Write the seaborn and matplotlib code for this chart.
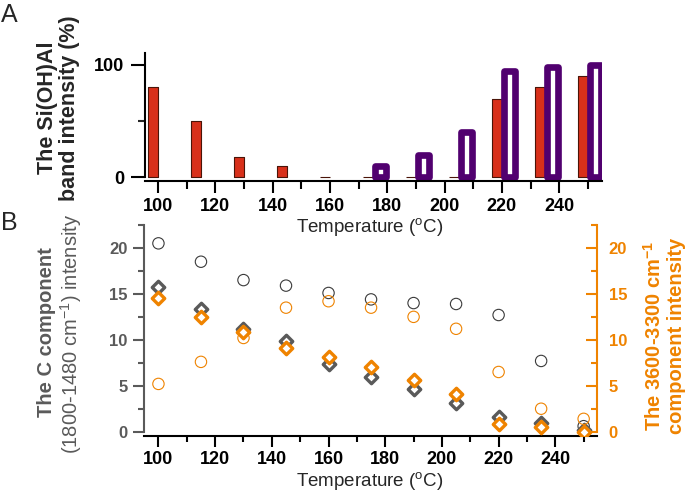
import numpy as np
import matplotlib
matplotlib.use("Agg")
import matplotlib.pyplot as plt
from matplotlib.ticker import MultipleLocator
import seaborn as sns

# data
temps = [100, 115, 130, 145, 160, 175, 190, 205, 220, 235, 250]

# panel A: Si(OH)Al band intensity (%)
band_red = [80, 50, 18, 10, 0, 0, 0, 0, 70, 80, 90]
band_purple = [np.nan, np.nan, np.nan, np.nan, np.nan, 10, 20, 40, 95, 98, 100]

# panel B: component intensities
c_circle = [20.5, 18.5, 16.5, 15.9, 15.1, 14.4, 14.0, 13.9, 12.7, 7.7, 0.6]
c_diamond = [15.8, 13.4, 11.2, 9.9, 7.4, 6.0, 4.6, 3.1, 1.6, 0.9, 0.2]
oh_circle = [5.2, 7.6, 10.2, 13.5, 14.2, 13.5, 12.5, 11.2, 6.5, 2.5, 1.4]
oh_diamond = [14.5, 12.5, 10.9, 9.1, 8.1, 7.0, 5.6, 4.1, 0.8, 0.5, 0.0]

RED = "#D8301A"
PURPLE = "#51006F"
ORANGE = "#EF8300"
GRAY = "#5A5A5A"
DARK = "#3A3A3A"

sns.set_theme(style="ticks")
plt.rcParams["font.family"] = ["Liberation Sans", "DejaVu Sans"]
plt.rcParams["mathtext.fontset"] = "custom"
plt.rcParams["mathtext.rm"] = "Liberation Sans"
plt.rcParams["mathtext.it"] = "Liberation Sans:italic"
plt.rcParams["mathtext.bf"] = "Liberation Sans:bold"

fig = plt.figure(figsize=(6.85, 4.91), dpi=100)
axA = fig.add_axes([0.2117, 0.6314, 0.6671, 0.2607])
axB = fig.add_axes([0.2102, 0.1120, 0.6613, 0.4298])

t = np.array(temps, dtype=float)

# ---- panel A ----
sns.barplot(x=t - 1.7, y=band_red, native_scale=True, width=3.6 / 15, orient="x",
            color=RED, edgecolor="#4a1408", linewidth=0.8, errorbar=None,
            saturation=1, ax=axA)
sns.barplot(x=t + 2.6, y=band_purple, native_scale=True, width=3.7 / 15, orient="x",
            color="white", edgecolor=PURPLE, linewidth=4.8, errorbar=None,
            saturation=1, ax=axA)
for p in axA.patches:
    p.set_joinstyle("round")

axA.set_xlim(95.5, 254.9)
axA.set_ylim(-3.3, 110.7)
axA.xaxis.set_major_locator(MultipleLocator(20))
axA.xaxis.set_minor_locator(MultipleLocator(10))
axA.set_yticks([0, 100])
axA.set_yticks([50], minor=True)
axA.set_xlabel("")
axA.set_ylabel("")
for s in ["top", "right"]:
    axA.spines[s].set_visible(False)
axA.spines["left"].set_bounds(0, 110.7)
for s in ["left", "bottom"]:
    axA.spines[s].set_linewidth(1.5)
    axA.spines[s].set_color("black")
axA.tick_params(axis="y", which="major", length=10, width=1.5, pad=5, labelsize=13, colors="black")
axA.tick_params(axis="y", which="minor", length=5, width=1.5)
axA.tick_params(axis="x", which="major", length=8.5, width=1.5, pad=4, labelsize=13, colors="black")
axA.tick_params(axis="x", which="minor", length=5.5, width=1.5, color="black")
for lab in axA.get_xticklabels() + axA.get_yticklabels():
    lab.set_fontweight("bold")

# ---- panel B ----
sns.scatterplot(x=temps, y=c_circle, marker="o", s=67, color=DARK, facecolor="none",
                edgecolor=DARK, linewidth=0.8, ax=axB, zorder=3)
sns.scatterplot(x=temps, y=c_diamond, marker="D", s=40, color=GRAY, facecolor="white",
                edgecolor=GRAY, linewidth=2.4, ax=axB, zorder=4)

axR = axB.twinx()
sns.scatterplot(x=temps, y=oh_circle, marker="o", s=67, color=ORANGE, facecolor="none",
                edgecolor=ORANGE, linewidth=0.8, ax=axR, zorder=3)
sns.scatterplot(x=temps, y=oh_diamond, marker="D", s=40, color=ORANGE, facecolor="white",
                edgecolor=ORANGE, linewidth=2.4, ax=axR, zorder=4)

for ax in (axB, axR):
    ax.set_xlim(94.9, 254.7)
    ax.set_ylim(-0.47, 22.5)
    ax.yaxis.set_major_locator(MultipleLocator(5))
    ax.yaxis.set_minor_locator(MultipleLocator(2.5))
    ax.set_xlabel("")
    ax.set_ylabel("")

axB.xaxis.set_major_locator(MultipleLocator(20))
axB.xaxis.set_minor_locator(MultipleLocator(10))
axB.spines["top"].set_visible(False)
axB.spines["right"].set_visible(False)
axB.spines["left"].set_bounds(0, 22.5)
axB.spines["left"].set_color(GRAY)
axB.spines["left"].set_linewidth(1.5)
axB.spines["bottom"].set_color("black")
axB.spines["bottom"].set_linewidth(1.5)
axB.tick_params(axis="y", which="major", length=8, width=1.5, pad=4, labelsize=12,
                color=GRAY, labelcolor=GRAY)
axB.tick_params(axis="y", which="minor", length=4.5, width=1.5, color=GRAY)
axB.tick_params(axis="x", which="major", length=8, width=1.5, pad=2.5, labelsize=13, colors="black")
axB.tick_params(axis="x", which="minor", length=4.5, width=1.5, color="black")

for s in ["top", "left", "bottom"]:
    axR.spines[s].set_visible(False)
axR.spines["right"].set_bounds(0, 22.5)
axR.spines["right"].set_color(ORANGE)
axR.spines["right"].set_linewidth(1.5)
axR.tick_params(axis="y", which="major", direction="in", length=8, width=1.5, pad=8.5,
                labelsize=12, color=ORANGE, labelcolor=ORANGE)
axR.tick_params(axis="y", which="minor", direction="in", length=4.5, width=1.5, color=ORANGE)

for lab in axB.get_xticklabels() + axB.get_yticklabels() + axR.get_yticklabels():
    lab.set_fontweight("bold")

# ---- texts ----
fig.text(0.002, 1 - 22 / 491, "A", fontsize=18, va="baseline", ha="left")
fig.text(0.002, 1 - 230 / 491, "B", fontsize=18, va="baseline", ha="left")

fig.text(0.0854, 1 - 108 / 491, "The Si(OH)Al\nband intensity (%)", rotation=90,
         fontsize=15.5, fontweight="bold", ha="center", va="center",
         multialignment="center", linespacing=1.1)
fig.text(370 / 685, 1 - 227 / 491, "Temperature ($^{\\rm o}$C)", fontsize=13.5,
         ha="center", va="center")
fig.text(370 / 685, 1 - 481 / 491, "Temperature ($^{\\rm o}$C)", fontsize=13.5,
         ha="center", va="center")

fig.text(46.5 / 685, 1 - 332 / 491, "The C component", rotation=90, fontsize=14.5,
         fontweight="bold", color=GRAY, ha="center", va="center")
fig.text(71.5 / 685, 1 - 334 / 491, "(1800-1480 cm$^{-1}$) intensity", rotation=90,
         fontsize=14.5, color=GRAY, ha="center", va="center")
fig.text(664 / 685, 1 - 336 / 491, "The 3600-3300 cm$^{\\mathbf{-1}}$\ncomponent intensity",
         rotation=90, fontsize=14.5, fontweight="bold", color=ORANGE, ha="center",
         va="center", multialignment="center", linespacing=1.15)

fig.savefig("out.png", dpi=100)
